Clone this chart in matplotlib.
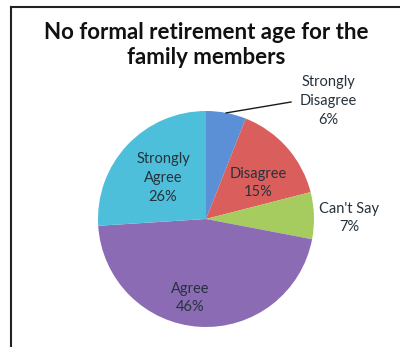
import matplotlib
matplotlib.use('Agg')
import matplotlib.pyplot as plt
import numpy as np

title = "No formal retirement age for the\nfamily members"
categories = ["Strongly\nDisagree", "Disagree", "Can't Say", "Agree", "Strongly\nAgree"]
shares = [6, 15, 7, 46, 26]
colors = ['#5B8FD6', '#DA5F5C', '#A6CB5E', '#8C6BB5', '#4DBFDA']

# label anchor offsets from the pie centre, in pixels (x right, y up)
label_offsets = [(122, 118), (52, 36), (143, 1), (-16, -79), (-43, 41)]

W, H = 400, 347
fig = plt.figure(figsize=(W / 100, H / 100), dpi=100)
ax = fig.add_axes([0, 0, 1, 1])

cx, cy, r = 206, H - 219, 108
wedges, _ = ax.pie(shares, colors=colors, startangle=90, counterclock=False,
                   center=(cx, cy), radius=r, frame=True,
                   wedgeprops=dict(linewidth=0))
ax.set_xlim(0, W)
ax.set_ylim(0, H)
ax.set_aspect('equal')
ax.axis('off')

for cat, val, (dx, dy) in zip(categories, shares, label_offsets):
    ax.text(cx + dx, cy + dy, f"{cat}\n{val}%", ha='center', va='center',
            fontsize=10.5, family='Lato', color='#26323c', linespacing=1.42)

# leader line for the small first slice
w = wedges[0]
mid = np.deg2rad((w.theta1 + w.theta2) / 2)
x0, y0 = cx + r * np.cos(mid), cy + r * np.sin(mid)
ax.plot([x0, 291], [y0, H - 102], color='#1a1a1a', lw=1)

ax.text(206, H - 45, title, ha='center', va='center', fontsize=16,
        fontweight='bold', family='Lato', color='#111111', linespacing=1.25)

# chart frame
ax.plot([11, W], [H - 7, H - 7], color='#222222', lw=1.5, clip_on=False)
ax.plot([11, 11], [H - 7, 0], color='#222222', lw=1.5, clip_on=False)

fig.savefig('out.png', dpi=100)
